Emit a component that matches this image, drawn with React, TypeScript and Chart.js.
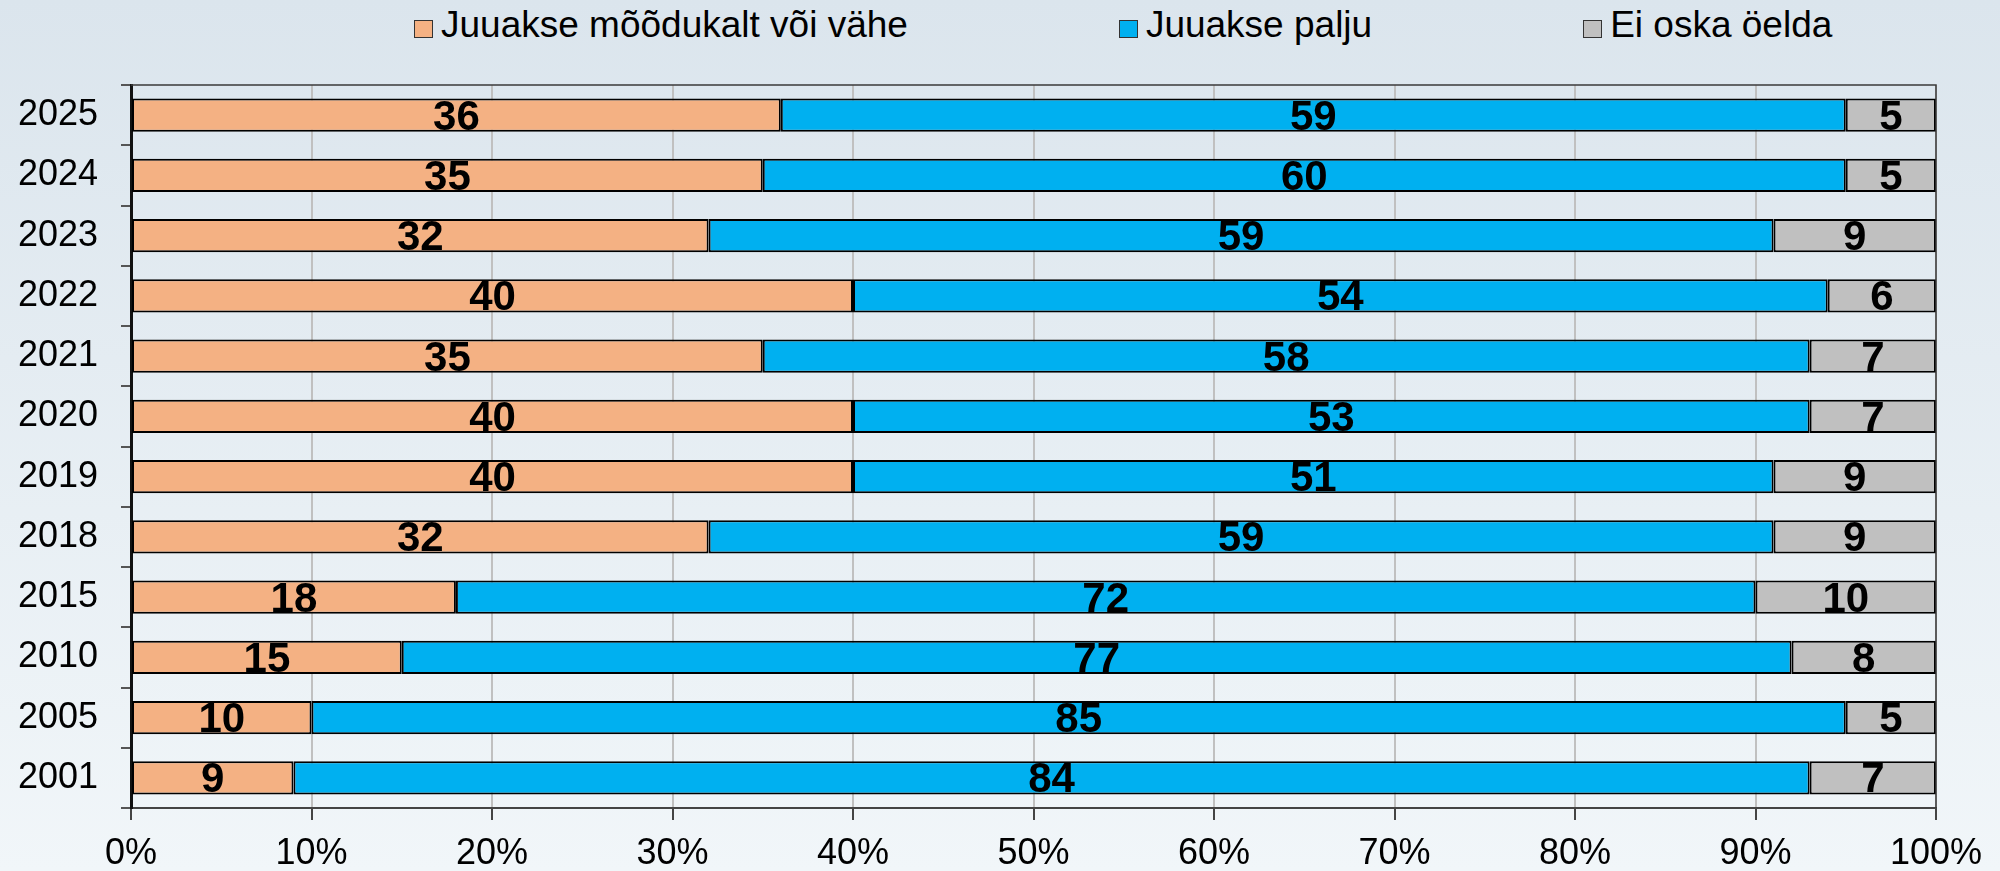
import React, { useEffect, useRef } from "react";
import { Chart, registerables } from "chart.js";

Chart.register(...registerables);

const categories = ["2025", "2024", "2023", "2022", "2021", "2020", "2019", "2018", "2015", "2010", "2005", "2001"];
const moderate = [36, 35, 32, 40, 35, 40, 40, 32, 18, 15, 10, 9];
const heavy = [59, 60, 59, 54, 58, 53, 51, 59, 72, 77, 85, 84];
const unsure = [5, 5, 9, 6, 7, 7, 9, 9, 10, 8, 5, 7];
const seriesNames = ["Juuakse mõõdukalt või vähe", "Juuakse palju", "Ei oska öelda"];
const seriesColors = ["#f4b183", "#00b0f0", "#c0c0c0"];
const xTicks = [0, 10, 20, 30, 40, 50, 60, 70, 80, 90, 100];

const FONT = "'Liberation Sans', Arial, sans-serif";

const labelPlugin = {
  id: "barLabels",
  afterDatasetsDraw(chart: any) {
    const ctx = chart.ctx;
    ctx.save();
    ctx.font = `bold 42px ${FONT}`;
    ctx.fillStyle = "#000";
    ctx.textAlign = "center";
    ctx.textBaseline = "middle";
    chart.data.datasets.forEach((ds: any, di: number) => {
      const meta = chart.getDatasetMeta(di);
      meta.data.forEach((el: any, i: number) => {
        const p = el.getCenterPoint();
        ctx.fillText(String(ds.data[i]), p.x, p.y + 3);
      });
    });
    ctx.restore();
  },
};

const framePlugin = {
  id: "frame",
  afterDraw(chart: any) {
    const { ctx, chartArea } = chart;
    ctx.save();
    ctx.strokeStyle = "#3a3a3a";
    ctx.lineWidth = 1.5;
    ctx.beginPath();
    ctx.moveTo(chartArea.left, chartArea.top);
    ctx.lineTo(chartArea.right, chartArea.top);
    ctx.lineTo(chartArea.right, chartArea.bottom);
    ctx.stroke();
    ctx.restore();
  },
};

export default function App() {
  const ref = useRef<HTMLCanvasElement>(null);

  useEffect(() => {
    document.body.style.margin = "0";
    const c = new Chart(ref.current!, {
      type: "bar",
      data: {
        labels: categories,
        datasets: [moderate, heavy, unsure].map((d, i) => ({
          label: seriesNames[i],
          data: d,
          backgroundColor: seriesColors[i],
          borderColor: "#000",
          borderWidth: 2,
          borderSkipped: false,
          categoryPercentage: 1,
          barPercentage: 0.55,
        })),
      },
      options: {
        indexAxis: "y",
        animation: false,
        responsive: false,
        maintainAspectRatio: false,
        layout: { padding: { top: 85, right: 64, left: 0, bottom: 0 } },
        plugins: { legend: { display: false }, tooltip: { enabled: false } },
        scales: {
          x: {
            stacked: true,
            min: 0,
            max: 100,
            afterBuildTicks: (axis: any) => {
              axis.ticks = xTicks.map((v) => ({ value: v }));
            },
            afterFit: (axis: any) => {
              axis.height = 63;
            },
            ticks: {
              callback: (v: any) => v + "%",
              color: "#000",
              font: { family: FONT, size: 36 },
              padding: 12,
              maxRotation: 0,
              autoSkip: false,
            },
            grid: {
              color: "#c0c0c0",
              lineWidth: 2,
              tickColor: "#444",
              tickLength: 12,
            },
            border: { color: "#444", width: 2 },
          },
          y: {
            stacked: true,
            afterFit: (axis: any) => {
              axis.width = 131;
            },
            ticks: {
              color: "#000",
              font: { family: FONT, size: 36 },
              padding: 23,
              autoSkip: false,
            },
            grid: {
              offset: true,
              drawOnChartArea: false,
              tickColor: "#555",
              tickLength: 10,
              lineWidth: 2,
            },
            border: { color: "#111", width: 3 },
          },
        },
      },
      plugins: [labelPlugin, framePlugin],
    } as any);
    return () => c.destroy();
  }, []);

  return (
    <div
      style={{
        position: "relative",
        width: 2000,
        height: 871,
        background: "linear-gradient(to bottom, #dbe5ed, #f1f6f9)",
        overflow: "hidden",
      }}
    >
      <div
        style={{
          position: "absolute",
          top: 5,
          left: 414,
          height: 40,
          display: "flex",
          gap: 211,
          fontFamily: FONT,
          fontSize: 37,
          lineHeight: "40px",
          color: "#000",
          whiteSpace: "nowrap",
        }}
      >
        {seriesNames.map((n, i) => (
          <div key={n} style={{ display: "flex", alignItems: "center" }}>
            <span
              style={{
                display: "inline-block",
                boxSizing: "border-box",
                width: 19,
                height: 18,
                background: seriesColors[i],
                border: "1.5px solid #333",
                position: "relative",
                top: 4,
                marginRight: 8,
              }}
            />
            <span>{n}</span>
          </div>
        ))}
      </div>
      <canvas ref={ref} width={2000} height={871} style={{ position: "absolute", left: 0, top: 0 }} />
    </div>
  );
}
